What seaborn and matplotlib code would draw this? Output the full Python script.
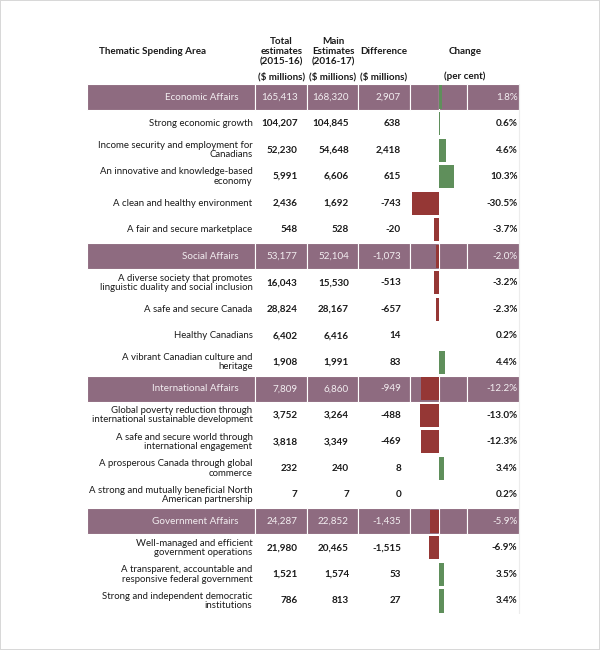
import numpy as np
import pandas as pd
import matplotlib
matplotlib.use("Agg")
import matplotlib.pyplot as plt
import seaborn as sns

sns.set_theme(style="white")
plt.rcParams['font.family'] = ['Lato', 'DejaVu Sans']

# data
labels = [
    "Economic Affairs",
    "Strong economic growth",
    "Income security and employment for\nCanadians",
    "An innovative and knowledge-based\neconomy",
    "A clean and healthy environment",
    "A fair and secure marketplace",
    "Social Affairs",
    "A diverse society that promotes\nlinguistic duality and social inclusion",
    "A safe and secure Canada",
    "Healthy Canadians",
    "A vibrant Canadian culture and\nheritage",
    "International Affairs",
    "Global poverty reduction through\ninternational sustainable development",
    "A safe and secure world through\ninternational engagement",
    "A prosperous Canada through global\ncommerce",
    "A strong and mutually beneficial North\nAmerican partnership",
    "Government Affairs",
    "Well-managed and efficient\ngovernment operations",
    "A transparent, accountable and\nresponsive federal government",
    "Strong and independent democratic\ninstitutions",
]
is_area = [True, False, False, False, False, False,
           True, False, False, False, False,
           True, False, False, False, False,
           True, False, False, False]
total = [165413, 104207, 52230, 5991, 2436, 548,
         53177, 16043, 28824, 6402, 1908,
         7809, 3752, 3818, 232, 7,
         24287, 21980, 1521, 786]
main = [168320, 104845, 54648, 6606, 1692, 528,
        52104, 15530, 28167, 6416, 1991,
        6860, 3264, 3349, 240, 7,
        22852, 20465, 1574, 813]
diff = [2907, 638, 2418, 615, -743, -20,
        -1073, -513, -657, 14, 83,
        -949, -488, -469, 8, 0,
        -1435, -1515, 53, 27]
pct = [1.8, 0.6, 4.6, 10.3, -30.5, -3.7,
       -2.0, -3.2, -2.3, 0.2, 4.4,
       -12.2, -13.0, -12.3, 3.4, 0.2,
       -5.9, -6.9, 3.5, 3.4]

df = pd.DataFrame({"row": np.arange(len(labels)), "pct": pct})
df["sign"] = np.where(df["pct"] >= 0, "pos", "neg")

PURPLE = "#8e6b80"
GREEN = "#5f8f5b"
RED = "#953735"
W, H = 600, 650
top_px, bot_px = 83.75, 614.25
n = len(labels)

fig = plt.figure(figsize=(6, 6.5), dpi=100)
fig.patch.set_edgecolor("#d8d8d8")
fig.patch.set_linewidth(1.2)

ax = fig.add_axes([0, 1 - bot_px / H, 1, (bot_px - top_px) / H])
ax.set_xlim(0, W)
ax.set_ylim(n - 0.5, -0.5)
ax.axis("off")

# band rows (thematic areas)
edges = [87, 255, 307, 358, 410, 439, 467, 519]
for i in range(n):
    if is_area[i]:
        for a, b in zip(edges[:-1], edges[1:]):
            ax.barh(i, b - a, left=a, height=0.98, color=PURPLE,
                    edgecolor="white", linewidth=0.8)
ax.plot([519, 519], [-0.5, n - 0.5], color="#ececec", lw=0.8)

fs = 7.1
for i in range(n):
    if is_area[i]:
        c, lx, lfs = "#f3eef1", 239, 7.1
    else:
        c, lx, lfs = "#1a1a1a", 252.5, 6.9
    ax.text(lx, i, labels[i], ha="right", va="center", fontsize=lfs,
            color=c, linespacing=1.05)
    nw = "normal" if is_area[i] else "bold"
    ax.text(297.5, i, f"{total[i]:,}", ha="right", va="center", fontsize=fs, color=c, fontweight=nw)
    ax.text(349, i, f"{main[i]:,}", ha="right", va="center", fontsize=fs, color=c, fontweight=nw)
    ax.text(401, i, f"{diff[i]:,}", ha="right", va="center", fontsize=fs, color=c, fontweight=nw)
    ax.text(517.5, i, f"{pct[i]:.1f}%", ha="right", va="center", fontsize=fs, color=c, fontweight=nw)

# data bars for per cent change
bx = fig.add_axes([412 / W, 1 - bot_px / H, (467 - 412) / W, (bot_px - top_px) / H])
sns.barplot(data=df, x="pct", y="row", hue="sign", orient="h",
            palette={"pos": GREEN, "neg": RED}, dodge=False, legend=False,
            width=0.87, saturation=1, linewidth=0, ax=bx)
bx.set_xlim(-18.6, 19.3)
bx.set_ylim(n - 0.5, -0.5)
bx.patch.set_alpha(0)
bx.axis("off")


def ftxt(x, y, s, **kw):
    fig.text(x / W, 1 - y / H, s, ha="center", va="center", fontsize=fs,
             fontweight="bold", color="#1a1a1a", **kw)


ftxt(152.7, 52, "Thematic Spending Area")
ftxt(281.7, 52, "Total\nestimates\n(2015-16)", linespacing=1.15)
ftxt(333, 52, "Main\nEstimates\n(2016-17)", linespacing=1.15)
ftxt(384, 52, "Difference")
ftxt(465, 51, "Change")
for x in [281.7, 333, 384]:
    ftxt(x, 76.7, "($ millions)")
ftxt(465, 76.7, "(per cent)")

fig.savefig("out.png", dpi=100, edgecolor=fig.get_edgecolor())
